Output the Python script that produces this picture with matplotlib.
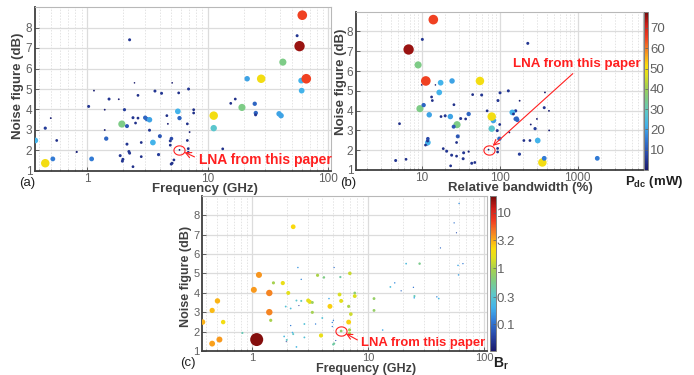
import numpy as np
import matplotlib
matplotlib.use("Agg")
import matplotlib.pyplot as plt
from matplotlib.colors import LinearSegmentedColormap, Normalize, LogNorm
from matplotlib.cm import ScalarMappable
from matplotlib.path import Path
from matplotlib.ticker import LogLocator, NullFormatter

plt.rcParams['font.family'] = ['Liberation Sans', 'DejaVu Sans']
plt.rcParams['mathtext.fontset'] = 'custom'
plt.rcParams['mathtext.rm'] = 'Liberation Sans'
plt.rcParams['mathtext.bf'] = 'Liberation Sans:bold'

# --- Survey data ---
freq = [0.45, 0.52, 0.372, 0.45, 0.50, 0.56, 0.82, 1.09, 1.03, 1.14,
        1.40, 1.52, 1.40, 1.44, 1.83, 1.94, 2.04, 2.14, 2.14, 2.22,
        2.25, 1.88, 1.98, 1.96, 2.25, 2.40, 2.52, 2.64, 2.40, 2.47,
        2.64, 2.81, 2.81, 3.03, 3.13, 3.29, 3.29, 3.51, 3.65, 4.01,
        3.91, 4.14, 4.58, 4.67, 4.89, 5.00, 4.98, 5.07, 4.89, 5.74,
        6.93, 5.65, 5.83, 6.77, 7.07, 7.64, 7.64, 6.77, 6.89, 6.89,
        5.24, 13.3, 11.2, 11.2, 15.5, 16.9, 60.7, 55.0, 57.6, 41.9,
        21.2, 27.7, 59.4, 65.5, 60.0, 19.2, 24.5, 25.0, 24.9, 39.0,
        40.5, 5.07]  # GHz

nf = [1.38, 1.59, 2.49, 3.09, 3.58, 2.49, 1.93, 1.59, 4.15, 4.92,
      3.99, 4.51, 3.00, 2.58, 4.50, 3.29, 3.99, 3.19, 2.31, 1.95,
      1.87, 1.75, 1.57, 1.48, 7.40, 3.60, 3.34, 3.58, 1.21, 5.30,
      4.69, 2.39, 1.70, 3.60, 3.53, 3.50, 2.99, 2.39, 4.90, 2.70,
      1.80, 4.79, 3.70, 3.30, 2.47, 2.58, 1.34, 5.30, 2.26, 4.81,
      5.00, 3.91, 3.58, 3.30, 2.90, 3.99, 3.83, 2.49, 2.09, 1.91,
      1.54, 2.08, 3.70, 3.09, 4.30, 4.51, 8.60, 7.60, 7.09, 6.31,
      5.50, 5.50, 5.41, 5.50, 4.92, 4.10, 4.28, 3.83, 3.74, 3.79,
      3.70, 1.38]  # dB

bw = [352, 372, 307, 284, 300, 204, 40, 1780, 372, 380,
      428, 95, 430, 99, 180, 28.4, 160, 25.7, 11.8, 20.9,
      34.5, 24.2, 34, 4.64, 229, 31.6, 5.2, 36.6, 23.5, 15,
      13.4, 28, 28, 165, 168, 83, 93, 12, 101, 29,
      179, 58.7, 17.7, 250, 11.9, 12, 43.8, 10, 11.2, 45,
      129, 145, 160, 100, 133, 69, 150, 244, 94, 94,
      6.3, 18.9, 79, 79, 25.9, 13.7, 14.1, 10.2, 6.8, 9.0,
      24.5, 55.8, 17.5, 11.3, 16.8, 9.5, 10.6, 40, 20, 12.5,
      23.3, 48]  # relative bandwidth, %

pdc = [50, 15, 22, 6, 1, 4, 2, 15, 5, 1,
       1, 5, 1, 12, 1, 35, 6, 10, 5, 5,
       5, 5, 5, 5, 5, 5, 4, 4, 4, 0.3,
       4, 4, 4, 12, 12, 20, 5, 22, 5, 10,
       6, 5, 4, 1, 5, 8, 5, 0.5, 4, 4,
       5, 22, 12, 4, 1, 4, 4, 4, 4, 4,
       4, 4, 50, 28, 4, 4, 65, 5, 75, 35,
       20, 50, 22, 65, 22, 35, 12, 12, 5, 20,
       20, 4]  # mW

br = [3.52, 3.72, 3.07, 2.84, 3.0, 2.04, 0.4, 17.8, 3.72, 3.8,
      4.28, 0.95, 4.3, 0.99, 1.8, 0.284, 1.6, 0.257, 0.118, 0.209,
      0.345, 0.242, 0.34, 0.0464, 2.29, 0.316, 0.052, 0.366, 0.235, 0.15,
      0.134, 0.28, 0.28, 1.65, 1.68, 0.83, 0.93, 0.12, 1.01, 0.29,
      1.79, 0.587, 0.177, 2.5, 0.119, 0.12, 0.438, 0.1, 0.112, 0.45,
      1.29, 1.45, 1.6, 1.0, 1.33, 0.69, 1.5, 2.44, 0.94, 0.94,
      0.063, 0.189, 0.79, 0.79, 0.259, 0.137, 0.141, 0.102, 0.068, 0.09,
      0.245, 0.558, 0.175, 0.113, 0.168, 0.095, 0.106, 0.4, 0.2, 0.125,
      0.233, 0.48]

# --- LNA from this paper ---
lna_freq = 5.83
lna_nf = 2.03
lna_bw = 72
lna_pdc = 0.8
lna_br = 0.72

freq = np.array(freq + [lna_freq])
nf = np.array(nf + [lna_nf])
bw = np.array(bw + [lna_bw])
pdc = np.array(pdc + [lna_pdc])
br = np.array(br + [lna_br])

# --- Colormap (jet-like, softened) ---
anchors = [
    (0.00, (0.10, 0.10, 0.42)),
    (0.10, (0.16, 0.28, 0.66)),
    (0.20, (0.20, 0.50, 0.85)),
    (0.28, (0.26, 0.70, 0.92)),
    (0.36, (0.36, 0.78, 0.80)),
    (0.45, (0.50, 0.80, 0.52)),
    (0.53, (0.66, 0.82, 0.30)),
    (0.60, (0.88, 0.88, 0.12)),
    (0.66, (0.98, 0.86, 0.05)),
    (0.72, (0.98, 0.66, 0.10)),
    (0.78, (0.95, 0.45, 0.15)),
    (0.84, (0.94, 0.24, 0.13)),
    (0.92, (0.80, 0.12, 0.10)),
    (1.00, (0.45, 0.04, 0.04)),
]
cmap = LinearSegmentedColormap.from_list('survey', anchors)
norm_pdc = Normalize(vmin=0, vmax=78)
norm_br = LogNorm(vmin=0.033, vmax=20)

s_pdc = 0.518 * (1.4 * pdc + 2.0)
s_br = 4.9 * br + 0.4

W, H = 694, 375


def px_rect(l, t, r, b):
    return [l / W, 1 - b / H, (r - l) / W, (b - t) / H]


# эллипс вокруг точки LNA
theta = np.linspace(0, 2 * np.pi, 60)
ellipse_marker = Path(np.column_stack([1.2 * np.cos(theta), np.sin(theta)]))


def style_axes(ax, xlim, xticks, xticklabels, fs=8.5):
    ax.set_xscale('log')
    ax.set_xlim(xlim)
    ax.set_ylim(1, 9)
    ax.set_yticks(range(1, 9))
    ax.set_xticks(xticks)
    ax.set_xticklabels(xticklabels)
    ax.xaxis.set_minor_locator(LogLocator(base=10, subs=np.arange(2, 10), numticks=20))
    ax.xaxis.set_minor_formatter(NullFormatter())
    ax.grid(True, which='major', color='#dcdcdc', lw=0.9)
    ax.grid(True, which='minor', axis='x', color='#e4e4e4', lw=0.7, ls=(0, (1.5, 1.5)))
    ax.set_axisbelow(True)
    ax.tick_params(which='both', direction='in', colors='#606060', labelsize=fs,
                   labelcolor='#606060')
    ax.tick_params(axis='x', pad=1.2)
    ax.tick_params(axis='y', pad=2)
    ax.tick_params(which='major', length=3, width=0.7)
    ax.tick_params(which='minor', length=1.8, width=0.5)
    for side in ['left', 'bottom']:
        ax.spines[side].set_color('#404040')
        ax.spines[side].set_linewidth(1.3)
    for side in ['top', 'right']:
        ax.spines[side].set_color('#b8b8b8')
        ax.spines[side].set_linewidth(0.8)


def style_cbar(cb):
    cb.outline.set_edgecolor('#808080')
    cb.outline.set_linewidth(0.7)
    cb.ax.tick_params(which='both', direction='in', length=2, width=0.5,
                      colors='#606060', labelsize=9.5, pad=1)
    cb.ax.minorticks_off()


def mark_lna(ax, x, text_offset, ha, relpos, fs):
    ax.plot(x, lna_nf, marker=ellipse_marker, ms=8, mfc='none', mec='#ff2020', mew=0.8,
            zorder=5)
    ax.annotate('LNA from this paper', xy=(x, lna_nf), xytext=text_offset,
                textcoords='offset points', ha=ha, va='center', color='#ff2020',
                fontsize=fs, fontweight='bold', zorder=6,
                arrowprops=dict(arrowstyle='->', color='#ff2020', lw=0.8,
                                shrinkA=1, shrinkB=4, relpos=relpos))


fig = plt.figure(figsize=(W / 100, H / 100), dpi=100)

lab_kw = dict(fontsize=9.5, fontweight='bold', color='#404040')

# --- (a) Noise figure vs Frequency, colour = Pdc ---
ax_a = fig.add_axes(px_rect(35, 7, 331, 171))
ax_a.scatter(freq, nf, s=s_pdc, c=pdc, cmap=cmap, norm=norm_pdc, linewidths=0, zorder=3)
style_axes(ax_a, (0.37, 105), [1, 10, 100], ['1', '10', '100'])
ax_a.set_xlabel('Frequency (GHz)', **lab_kw)
ax_a.xaxis.set_label_coords(0.574, -0.075)
ax_a.set_ylabel('Noise figure (dB)', **lab_kw)
ax_a.yaxis.set_label_coords(-0.036, 0.518)
mark_lna(ax_a, lna_freq, (13.7, -7.4), 'left', (0, 0.6), 10)
fig.text(19 / W, 1 - 183 / H, '(a)', fontsize=9.5, va='center', color='#202020')

# --- (b) Noise figure vs Relative bandwidth, colour = Pdc ---
ax_b = fig.add_axes(px_rect(356, 11.7, 642.7, 170))
ax_b.scatter(bw, nf, s=s_pdc, c=pdc, cmap=cmap, norm=norm_pdc, linewidths=0, zorder=3)
style_axes(ax_b, (1.44, 6800), [10, 100, 1000], ['10', '100', '1000'])
ax_b.set_xlabel('Relative bandwidth (%)', **lab_kw)
ax_b.xaxis.set_label_coords(0.572, -0.078)
ax_b.set_ylabel('Noise figure (dB)', **lab_kw)
ax_b.yaxis.set_label_coords(-0.033, 0.556)
mark_lna(ax_b, lna_bw, (63.6, 61.7), 'center', (0.5, 0), 9.6)
fig.text(340 / W, 1 - 183 / H, '(b)', fontsize=9.5, va='center', color='#202020')

cax_ab = fig.add_axes(px_rect(644, 11.7, 648.5, 170))
cb_ab = fig.colorbar(ScalarMappable(norm=norm_pdc, cmap=cmap), cax=cax_ab)
cb_ab.set_ticks([10, 20, 30, 40, 50, 60, 70])
style_cbar(cb_ab)
fig.text(654 / W, 1 - 182 / H, r'$\mathbf{P_{dc}}$ (mW)', fontsize=9.5, fontweight='bold',
         ha='center', va='center', color='#202020')

# --- (c) Noise figure vs Frequency, colour = Br ---
ax_c = fig.add_axes(px_rect(202.3, 195.7, 486.7, 351))
ax_c.scatter(freq, nf, s=s_br, c=br, cmap=cmap, norm=norm_br, linewidths=0, zorder=3)
style_axes(ax_c, (0.37, 105), [1, 10, 100], ['1', '10', '100'], fs=8)
ax_c.set_xlabel('Frequency (GHz)', fontsize=9, fontweight='bold', color='#404040')
ax_c.xaxis.set_label_coords(0.575, -0.078)
ax_c.set_ylabel('Noise figure (dB)', fontsize=9, fontweight='bold', color='#404040')
ax_c.yaxis.set_label_coords(-0.035, 0.483)
mark_lna(ax_c, lna_freq, (14.6, -8.9), 'left', (0, 0.6), 9.4)
fig.text(180 / W, 1 - 363 / H, '(c)', fontsize=9.5, va='center', color='#202020')

cax_c = fig.add_axes(px_rect(489.5, 195.7, 495.5, 351))
cb_c = fig.colorbar(ScalarMappable(norm=norm_br, cmap=cmap), cax=cax_c)
cb_c.set_ticks([0.1, 0.3, 1, 3.2, 10])
cb_c.set_ticklabels(['0.1', '0.3', '1', '3.2', '10'])
style_cbar(cb_c)
fig.text(501 / W, 1 - 364 / H, r'$\mathbf{B_{r}}$', fontsize=10, ha='center', va='center',
         color='#202020')

fig.savefig('out.png', dpi=100)
